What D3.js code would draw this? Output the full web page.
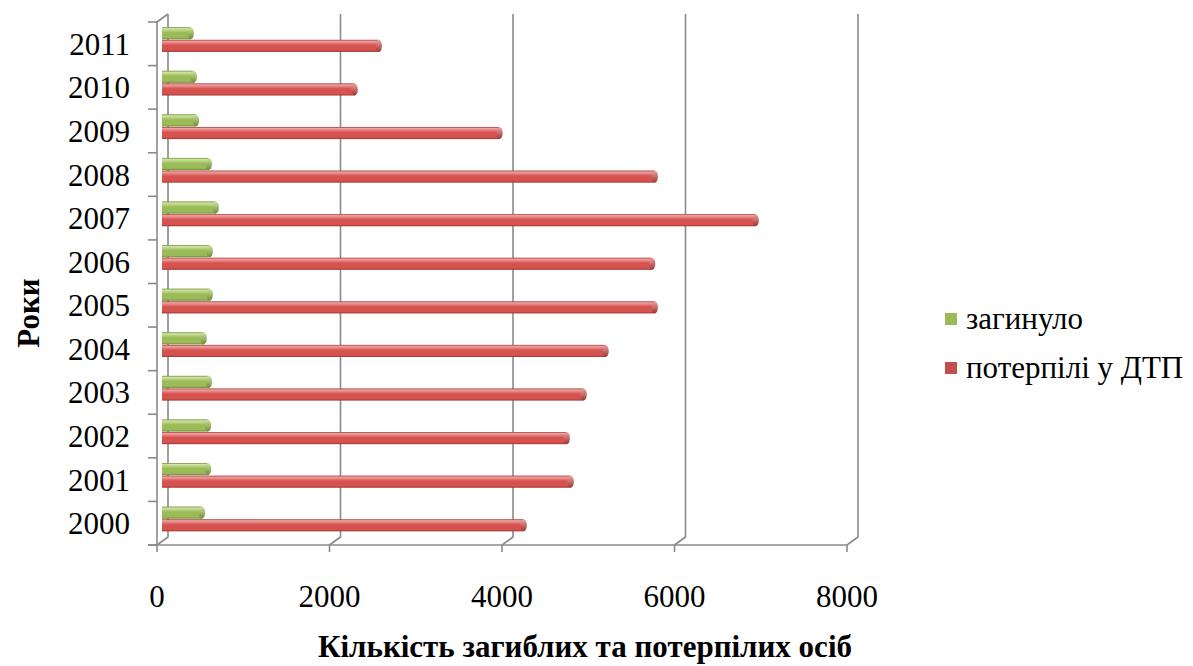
<!DOCTYPE html>
<html>
<head>
<meta charset="utf-8">
<script src="https://cdn.jsdelivr.net/npm/d3@7/dist/d3.min.js"></script>
<style>
  html, body { margin: 0; padding: 0; background: #fff; }
  svg { display: block; }
  text { font-family: "Liberation Serif", "Times New Roman", serif; fill: #000; }
</style>
</head>
<body>
<svg id="chart" width="1193" height="666"></svg>
<script>
// Road-traffic casualties by year
const years = ["2000", "2001", "2002", "2003", "2004", "2005", "2006", "2007", "2008", "2009", "2010", "2011"];
const killed = [500, 570, 570, 580, 520, 590, 590, 660, 580, 430, 405, 370];
const injured = [4230, 4775, 4730, 4925, 5180, 5750, 5720, 6920, 5750, 3950, 2270, 2550];
const seriesNames = ["загинуло", "потерпілі у ДТП"];
const xTicks = [0, 2000, 4000, 6000, 8000];
const xTitle = "Кількість загиблих та потерпілих осіб";
const yTitle = "Роки";

const series = [
  { name: seriesNames[0], values: killed, base: "#9BBB59", light: "#CFE5A0", dark: "#6E8C35", cap: "#B9D67E" },
  { name: seriesNames[1], values: injured, base: "#D5524F", light: "#EFA3A1", dark: "#9E3532", cap: "#D96B69" }
];

const svg = d3.select("#chart");
const defs = svg.append("defs");

// 3D depth of the plot box
const depthX = 11, depthY = -8;
const plot = { left: 157, right: 847, top: 22, bottom: 545 };

const x = d3.scaleLinear().domain([0, 8000]).range([plot.left, plot.right]);
const y = d3.scaleBand().domain(years.slice().reverse())
  .range([plot.top, plot.bottom]).paddingInner(0.42).paddingOuter(0.21);
const ySeries = d3.scaleBand().domain(seriesNames).range([0, y.bandwidth()]);

const gridColor = "#8a8a8a";

// back wall gridlines and floor connectors
const grid = svg.append("g").attr("stroke", gridColor).attr("stroke-width", 1.6).attr("fill", "none");
xTicks.forEach(v => {
  const fx = x(v), bx = fx + depthX;
  grid.append("path").attr("d",
    `M${bx},${plot.top + depthY} L${bx},${plot.bottom + depthY} L${fx},${plot.bottom}`);
});
// left wall: front axis, top connector
grid.append("path").attr("d",
  `M${plot.left},${plot.bottom} L${plot.left},${plot.top} L${plot.left + depthX},${plot.top + depthY}`);
// floor front edge
grid.append("line").attr("x1", plot.left - 9).attr("x2", plot.right)
  .attr("y1", plot.bottom).attr("y2", plot.bottom);
// x tick marks
xTicks.forEach(v => {
  grid.append("line").attr("x1", x(v)).attr("x2", x(v))
    .attr("y1", plot.bottom).attr("y2", plot.bottom + 7);
});
// y tick marks at category boundaries
const step = y.step();
d3.range(years.length + 1).forEach(i => {
  const yy = plot.top + i * step;
  grid.append("line").attr("x1", plot.left - 9).attr("x2", plot.left)
    .attr("y1", yy).attr("y2", yy);
});

// cylinder gradients
series.forEach((s, i) => {
  const g = defs.append("linearGradient").attr("id", "cyl" + i)
    .attr("x1", 0).attr("y1", 0).attr("x2", 0).attr("y2", 1);
  g.append("stop").attr("offset", "0%").attr("stop-color", s.dark);
  g.append("stop").attr("offset", "12%").attr("stop-color", s.light);
  g.append("stop").attr("offset", "45%").attr("stop-color", s.base);
  g.append("stop").attr("offset", "85%").attr("stop-color", s.base);
  g.append("stop").attr("offset", "100%").attr("stop-color", s.dark);
  const c = defs.append("linearGradient").attr("id", "cap" + i)
    .attr("x1", 0).attr("y1", 0).attr("x2", 0).attr("y2", 1);
  c.append("stop").attr("offset", "0%").attr("stop-color", s.light);
  c.append("stop").attr("offset", "100%").attr("stop-color", s.dark);
});

// bars sit half-way into the depth
const barDX = 5, barDY = -4;
const bars = svg.append("g");
years.forEach((yr, j) => {
  series.forEach((s, i) => {
    const v = s.values[j];
    const y0 = y(yr) + ySeries(s.name) + barDY;
    const h = ySeries.bandwidth() - 0.5;
    const x0 = x(0) + barDX, x1 = x(v) + barDX;
    const rx = 3.2;
    bars.append("rect")
      .attr("x", x0).attr("y", y0)
      .attr("width", Math.max(0, x1 - x0 - rx)).attr("height", h)
      .attr("fill", `url(#cyl${i})`);
    bars.append("ellipse")
      .attr("cx", x1 - rx).attr("cy", y0 + h / 2)
      .attr("rx", rx).attr("ry", h / 2)
      .attr("fill", `url(#cap${i})`);
  });
});

// year labels
svg.append("g").selectAll("text").data(years).join("text")
  .attr("x", 130)
  .attr("y", d => y(d) + y.bandwidth() / 2 + 11)
  .attr("text-anchor", "end")
  .attr("font-size", 31)
  .text(d => d);

// value axis labels
svg.append("g").selectAll("text").data(xTicks).join("text")
  .attr("x", d => x(d))
  .attr("y", 607)
  .attr("text-anchor", "middle")
  .attr("font-size", 31)
  .text(d => d);

// axis titles
svg.append("text")
  .attr("x", 585).attr("y", 657)
  .attr("text-anchor", "middle")
  .attr("font-size", 31).attr("font-weight", "bold")
  .text(xTitle);

svg.append("text")
  .attr("transform", "translate(39,313) rotate(-90)")
  .attr("text-anchor", "middle")
  .attr("font-size", 31).attr("font-weight", "bold")
  .text(yTitle);

// legend
const legend = svg.append("g");
series.forEach((s, i) => {
  const ly = 319 + i * 49;
  legend.append("rect")
    .attr("x", 945).attr("y", ly - 6).attr("width", 12).attr("height", 12)
    .attr("fill", i === 0 ? "#9BBB59" : "#C0504D");
  legend.append("text")
    .attr("x", 966).attr("y", ly + 10)
    .attr("font-size", 31)
    .text(s.name);
});
</script>
</body>
</html>
